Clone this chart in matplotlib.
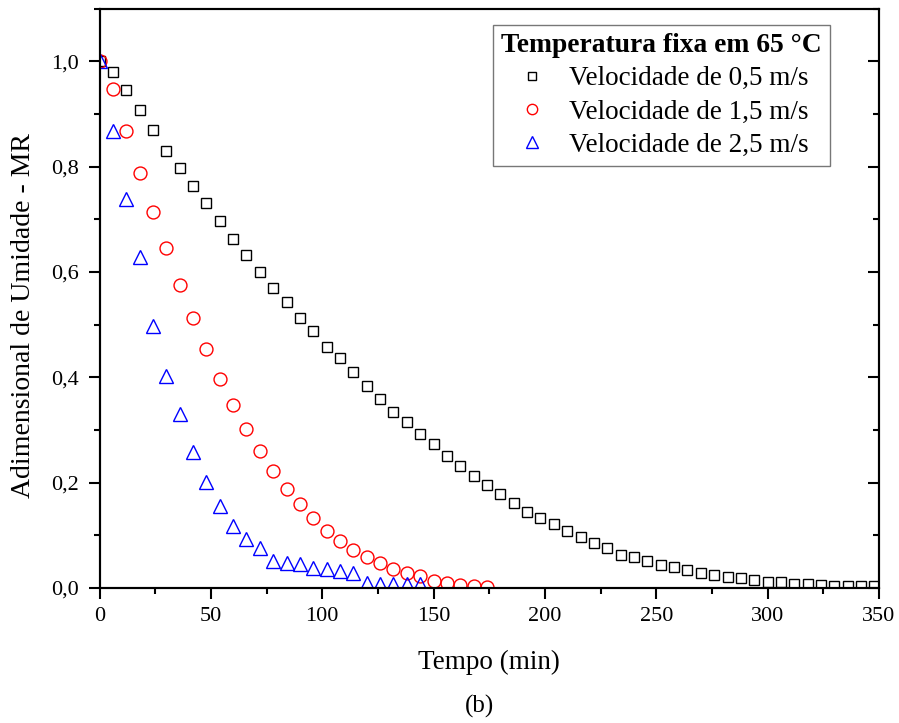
import matplotlib
matplotlib.use("Agg")
import matplotlib.pyplot as plt
from matplotlib.ticker import MultipleLocator, FuncFormatter

plt.rcParams['font.family'] = ['Liberation Serif', 'DejaVu Serif']
plt.rcParams['mathtext.fontset'] = 'stix'

t_05 = [0, 6, 12, 18, 24, 30, 36, 42, 48, 54, 60, 66, 72, 78, 84, 90, 96, 102, 108, 114,
        120, 126, 132, 138, 144, 150, 156, 162, 168, 174, 180, 186, 192, 198, 204, 210,
        216, 222, 228, 234, 240, 246, 252, 258, 264, 270, 276, 282, 288, 294, 300, 306,
        312, 318, 324, 330, 336, 342, 348]
mr_05 = [1.0, 0.98, 0.945, 0.907, 0.869, 0.83, 0.797, 0.763, 0.73, 0.697, 0.663, 0.633,
         0.6, 0.57, 0.542, 0.513, 0.487, 0.458, 0.436, 0.41, 0.384, 0.358, 0.334, 0.315,
         0.293, 0.273, 0.251, 0.232, 0.212, 0.195, 0.178, 0.162, 0.144, 0.133, 0.121,
         0.109, 0.097, 0.086, 0.076, 0.063, 0.059, 0.051, 0.044, 0.04, 0.034, 0.028,
         0.025, 0.021, 0.019, 0.015, 0.011, 0.011, 0.008, 0.008, 0.006, 0.004, 0.004,
         0.004, 0.004]

t_15 = [0, 6, 12, 18, 24, 30, 36, 42, 48, 54, 60, 66, 72, 78, 84, 90, 96, 102, 108, 114,
        120, 126, 132, 138, 144, 150, 156, 162, 168, 174]
mr_15 = [1.0, 0.947, 0.867, 0.787, 0.713, 0.645, 0.576, 0.512, 0.453, 0.396, 0.347,
         0.302, 0.26, 0.222, 0.188, 0.159, 0.132, 0.108, 0.089, 0.072, 0.059, 0.047,
         0.036, 0.028, 0.023, 0.013, 0.009, 0.006, 0.004, 0.002]

t_25 = [0, 6, 12, 18, 24, 30, 36, 42, 48, 54, 60, 66, 72, 78, 84, 90, 96, 102, 108, 114,
        120, 126, 132, 138, 144]
mr_25 = [1.0, 0.867, 0.739, 0.629, 0.498, 0.402, 0.331, 0.258, 0.201, 0.155, 0.117,
         0.093, 0.076, 0.051, 0.047, 0.045, 0.038, 0.036, 0.032, 0.028, 0.009, 0.008,
         0.008, 0.008, 0.008]

labels = ['Velocidade de 0,5 m/s', 'Velocidade de 1,5 m/s', 'Velocidade de 2,5 m/s']
legend_title = 'Temperatura fixa em 65 °C'

fig = plt.figure(figsize=(8.99, 7.23), dpi=100)
ax = fig.add_axes([0.1107, 0.1867, 0.867, 0.8015])

ax.plot(t_05, mr_05, linestyle='none', marker='s', ms=7.8, mfc='none', mec='black',
        mew=1.0, label=labels[0])
ax.plot(t_15, mr_15, linestyle='none', marker='o', ms=9.3, mfc='none', mec='#ff0000',
        mew=1.0, label=labels[1])
ax.plot(t_25, mr_25, linestyle='none', marker='^', ms=10, mfc='none', mec='#0000ff',
        mew=1.0, label=labels[2])

ax.set_xlim(0, 350)
ax.set_ylim(0, 1.1)
ax.xaxis.set_major_locator(MultipleLocator(50))
ax.xaxis.set_minor_locator(MultipleLocator(25))
ax.yaxis.set_major_locator(MultipleLocator(0.2))
ax.yaxis.set_minor_locator(MultipleLocator(0.1))
ax.yaxis.set_major_formatter(FuncFormatter(lambda v, p: f"{v:.1f}".replace('.', ',')))

for s in ax.spines.values():
    s.set_linewidth(1.5)

ax.tick_params(which='both', direction='out', width=1.5, labelsize=16)
ax.tick_params(which='major', length=8)
ax.tick_params(which='minor', length=4)
ax.tick_params(axis='x', which='major', pad=6)
ax.tick_params(axis='y', which='major', pad=7)
ax.tick_params(axis='both', which='both', top=False, right=False)

# mirrored inward ticks on right spine
axr = ax.twinx()
axr.set_ylim(ax.get_ylim())
axr.yaxis.set_major_locator(MultipleLocator(0.2))
axr.yaxis.set_minor_locator(MultipleLocator(0.1))
axr.tick_params(which='both', direction='in', width=1.5, labelright=False)
axr.tick_params(which='major', length=8)
axr.tick_params(which='minor', length=4)
for s in axr.spines.values():
    s.set_linewidth(1.5)

ax.set_xlabel('Tempo (min)', fontsize=19.5, labelpad=17)
ax.set_ylabel('Adimensional de Umidade - MR', fontsize=20)
ax.yaxis.set_label_coords(-0.0815, 0.47)

leg = ax.legend(loc='upper right', bbox_to_anchor=(0.9372, 0.9715), borderaxespad=0,
                title=legend_title, fontsize=19.5,
                title_fontproperties={'size': 19.8, 'weight': 'bold'},
                frameon=True, fancybox=False, edgecolor='#555555', markerscale=0.8,
                handlelength=1.25, handletextpad=0.75, labelspacing=0.3, borderpad=0.3)
leg.get_frame().set_linewidth(1.0)
ax.set_zorder(axr.get_zorder() + 1)
ax.patch.set_visible(False)

fig.text(0.533, 0.0235, '(b)', fontsize=18, ha='center', va='center')

fig.savefig('out.png', dpi=100)
